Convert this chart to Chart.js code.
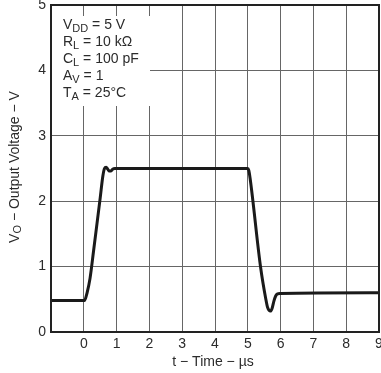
<!DOCTYPE html>
<html>
<head>
<meta charset="utf-8">
<script src="https://cdn.jsdelivr.net/npm/chart.js@4/dist/chart.umd.min.js"></script>
<style>
  html, body { margin: 0; padding: 0; background: #fff; }
  #wrap { width: 381px; height: 373px; }
</style>
</head>
<body>
<div id="wrap"><canvas id="chart" width="381" height="373"></canvas></div>
<script>
// output voltage step response
const timeUs = [-1, 0.02, 0.1, 0.19, 0.3, 0.4, 0.5, 0.58, 0.63, 0.68, 0.73, 0.78, 0.83, 0.88, 0.95,
  5.0, 5.03, 5.07, 5.39, 5.55, 5.6, 5.65, 5.69, 5.74, 5.8, 5.85, 5.9, 5.98, 9];
const voltage = [0.48, 0.48, 0.6, 0.82, 1.25, 1.65, 2.05, 2.38, 2.5, 2.52, 2.49, 2.46, 2.46, 2.49, 2.5,
  2.5, 2.47, 2.35, 0.99, 0.5, 0.38, 0.33, 0.32, 0.36, 0.48, 0.55, 0.58, 0.59, 0.6];

const xTicks = [0, 1, 2, 3, 4, 5, 6, 7, 8, 9];
const yTicks = [0, 1, 2, 3, 4, 5];

// conditions box lines: [main, subscript, rest]
const condLines = [
  ['V', 'DD', ' = 5 V'],
  ['R', 'L', ' = 10 kΩ'],
  ['C', 'L', ' = 100 pF'],
  ['A', 'V', ' = 1'],
  ['T', 'A', ' = 25°C']
];

const FONT = '"Liberation Sans", Arial, sans-serif';
const TXT = '#2b2b2b';

function drawSub(ctx, x, y, main, sub, rest, size) {
  ctx.font = size + 'px ' + FONT;
  ctx.fillText(main, x, y);
  x += ctx.measureText(main).width;
  ctx.font = Math.round(size * 0.75) + 'px ' + FONT;
  ctx.fillText(sub, x, y + 3);
  x += ctx.measureText(sub).width;
  ctx.font = size + 'px ' + FONT;
  ctx.fillText(rest, x, y);
}

const extras = {
  id: 'extras',
  beforeDatasetsDraw(chart) {
    const ctx = chart.ctx;
    const a = chart.chartArea;
    ctx.save();
    // white box behind the conditions text
    ctx.fillStyle = '#fff';
    ctx.fillRect(a.left + 1, 16, 98, 90);
    ctx.fillStyle = TXT;
    ctx.textBaseline = 'alphabetic';
    ctx.textAlign = 'left';
    condLines.forEach((l, i) => drawSub(ctx, 63, 29 + i * 17, l[0], l[1], l[2], 14));
    ctx.restore();
  },
  afterDraw(chart) {
    const ctx = chart.ctx;
    const a = chart.chartArea;
    ctx.save();
    ctx.strokeStyle = '#222';
    ctx.lineWidth = 2;
    ctx.strokeRect(a.left, a.top, a.right - a.left, a.bottom - a.top);

    ctx.fillStyle = TXT;
    // x axis title
    ctx.font = '14px ' + FONT;
    ctx.textAlign = 'center';
    ctx.textBaseline = 'middle';
    ctx.fillText('t − Time − µs', 213, 362);

    // y axis title, rotated, with subscript
    ctx.translate(15, 167);
    ctx.rotate(-Math.PI / 2);
    ctx.textAlign = 'left';
    ctx.textBaseline = 'middle';
    const parts = ['V', 'O', ' − Output Voltage − V'];
    ctx.font = '14px ' + FONT;
    let w = ctx.measureText(parts[0]).width + ctx.measureText(parts[2]).width;
    ctx.font = '11px ' + FONT;
    w += ctx.measureText(parts[1]).width;
    drawSub(ctx, -w / 2, 0, parts[0], parts[1], parts[2], 14);
    ctx.restore();
  }
};

new Chart(document.getElementById('chart'), {
  type: 'line',
  data: {
    datasets: [{
      data: timeUs.map((t, i) => ({ x: t, y: voltage[i] })),
      borderColor: '#1a1a1a',
      borderWidth: 3,
      pointRadius: 0,
      cubicInterpolationMode: 'monotone',
      fill: false
    }]
  },
  options: {
    responsive: false,
    animation: false,
    layout: { padding: { left: 0, right: 2, top: 5, bottom: 0 } },
    plugins: { legend: { display: false }, tooltip: { enabled: false } },
    scales: {
      x: {
        type: 'linear',
        min: -1,
        max: 9,
        afterBuildTicks: s => { s.ticks = [-1].concat(xTicks).map(v => ({ value: v })); },
        ticks: {
          callback: v => (v === -1 ? '' : v),
          color: TXT,
          font: { family: FONT, size: 14 },
          padding: 4,
          maxRotation: 0
        },
        grid: { color: '#666', lineWidth: 1, drawTicks: false },
        border: { display: false },
        afterFit: s => { s.height = 41; s.paddingRight = 0; s.paddingLeft = 0; }
      },
      y: {
        min: 0,
        max: 5,
        afterBuildTicks: s => { s.ticks = yTicks.map(v => ({ value: v })); },
        ticks: {
          color: TXT,
          font: { family: FONT, size: 14 },
          padding: 5
        },
        grid: { color: '#666', lineWidth: 1, drawTicks: false },
        border: { display: false },
        afterFit: s => { s.width = 51; s.paddingTop = 0; s.paddingBottom = 0; }
      }
    }
  },
  plugins: [extras]
});
</script>
</body>
</html>
